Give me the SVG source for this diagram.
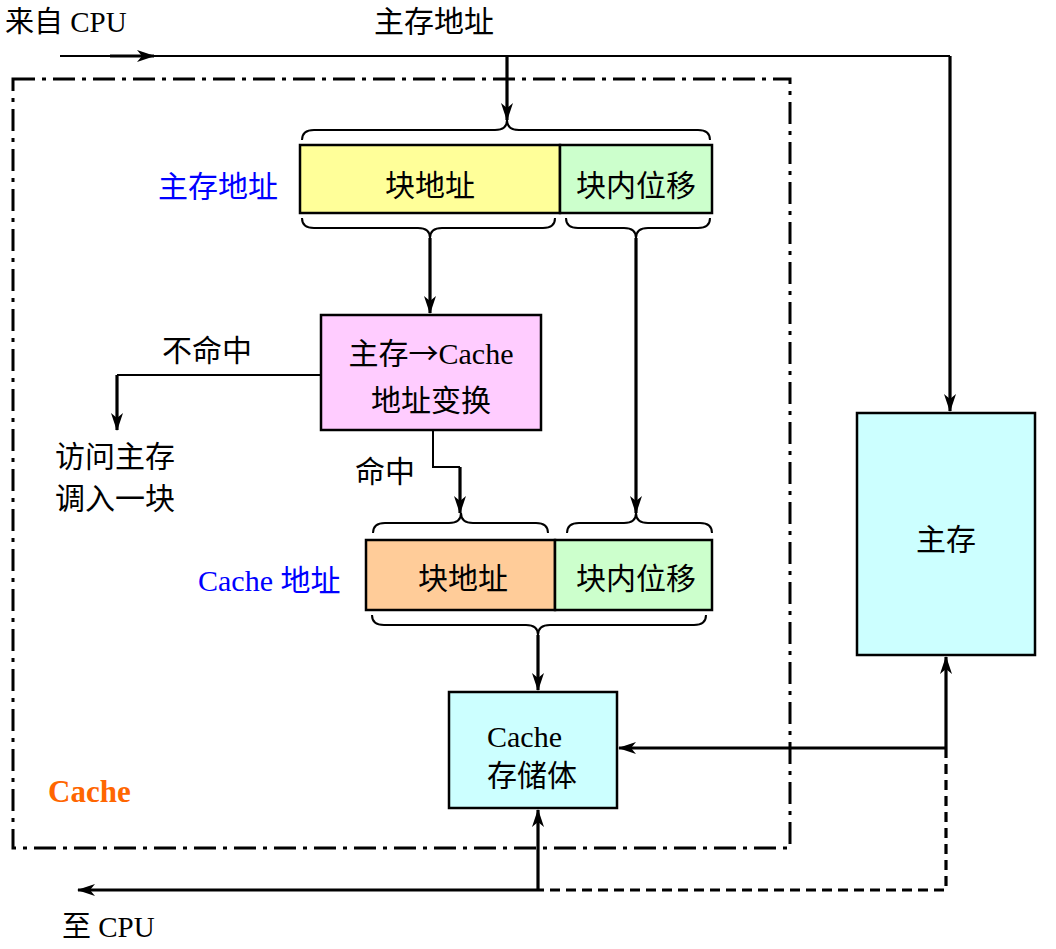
<svg xmlns="http://www.w3.org/2000/svg" width="1056" height="949" viewBox="0 0 1056 949">
<style>
text{font-family:"Liberation Serif","Noto Sans CJK SC",serif;fill:#000;}
.t{font-size:30px;text-anchor:middle;}
.l{font-size:30px;}
.blue{fill:#0000FF;}
.box{stroke:#000;stroke-width:2.5;}
.c{fill:none;stroke:#000;stroke-width:3.2;}
.thin{fill:none;stroke:#000;stroke-width:2;}
.brace{fill:none;stroke:#000;stroke-width:2;}
.cjk{font-family:"Noto Sans CJK SC",sans-serif;}
</style>
<defs>
<marker id="ah" viewBox="0 0 18 12" refX="17" refY="6" markerWidth="18" markerHeight="12" markerUnits="userSpaceOnUse" orient="auto">
<path d="M0,0 L18,6 L0,12 L5,6 z" fill="#000"/>
</marker>
</defs>
<rect width="1056" height="949" fill="#fff"/>

<g id="cache-frame">
<rect x="13" y="79" width="777" height="769" fill="none" stroke="#000" stroke-width="3" stroke-dasharray="22 7 4 7"/>
<text x="48" y="802" style="font-size:31px;font-weight:bold;fill:#FF6600;font-family:'Liberation Serif',serif">Cache</text>
</g>

<g id="labels">
<text x="5" y="32" style="font-size:29px">来自 CPU</text>
<text x="434" y="32" class="l" text-anchor="middle">主存地址</text>
<text x="158" y="197" class="l blue">主存地址</text>
<text x="198" y="591" class="l blue">Cache 地址</text>
<text x="162" y="361" class="l">不命中</text>
<text x="55" y="467" class="l">访问主存</text>
<text x="55" y="509" class="l">调入一块</text>
<text x="355" y="482" class="l">命中</text>
<text x="62" y="937" style="font-size:29px">至 CPU</text>
</g>

<g id="main-address">
<rect x="300" y="145" width="260" height="68" fill="#FFFF99" class="box"/>
<rect x="560" y="145" width="152" height="68" fill="#CCFFCC" class="box"/>
<text x="430" y="196" class="t">块地址</text>
<text x="636" y="196" class="t">块内位移</text>
</g>

<g id="translate">
<rect x="321" y="315" width="220" height="115" fill="#FFCCFF" class="box"/>
<text x="431" y="364" class="t">主存<tspan class="cjk">→</tspan>Cache</text>
<text x="431" y="411" class="t">地址变换</text>
</g>

<g id="cache-address">
<rect x="366" y="540" width="189" height="70" fill="#FFCC99" class="box"/>
<rect x="555" y="540" width="157" height="70" fill="#CCFFCC" class="box"/>
<text x="463" y="589" class="t">块地址</text>
<text x="636" y="589" class="t">块内位移</text>
</g>

<g id="cache-store">
<rect x="449" y="692" width="168" height="116" fill="#CCFFFF" class="box"/>
<text x="487" y="747" style="font-size:30px">Cache</text>
<text x="487" y="786" style="font-size:30px">存储体</text>
</g>

<g id="main-memory">
<rect x="857" y="413" width="178" height="242" fill="#CCFFFF" class="box"/>
<text x="946" y="550" class="t">主存</text>
</g>

<g id="braces">
<path class="brace" d="M302,140 Q302,130 314,130 L495,130 Q507,130 507,120 Q507,130 519,130 L698,130 Q710,130 710,140"/>
<path class="brace" d="M302,218 Q302,228 314,228 L418,228 Q430,228 430,238 Q430,228 442,228 L543,228 Q555,228 555,218"/>
<path class="brace" d="M566,218 Q566,228 578,228 L624,228 Q636,228 636,238 Q636,228 648,228 L698,228 Q710,228 710,218"/>
<path class="brace" d="M373,533 Q373,523 385,523 L449,523 Q461,523 461,513 Q461,523 473,523 L536,523 Q548,523 548,533"/>
<path class="brace" d="M567,533 Q567,523 579,523 L624,523 Q636,523 636,513 Q636,523 648,523 L700,523 Q712,523 712,533"/>
<path class="brace" d="M372,615 Q372,625 384,625 L526,625 Q538,625 538,635 Q538,625 550,625 L694,625 Q706,625 706,615"/>
</g>

<g id="connectors">
<path class="thin" d="M60,56 L950,56"/>
<path class="c" d="M110,56 L154,56" marker-end="url(#ah)"/>
<path class="c" d="M950,56 L950,411" marker-end="url(#ah)"/>
<path class="c" d="M507,56 L507,120" marker-end="url(#ah)"/>
<path class="c" d="M430,238 L430,313" marker-end="url(#ah)"/>
<path class="c" d="M636,238 L636,513" marker-end="url(#ah)"/>
<path class="thin" d="M321,375 L117,375"/>
<path class="c" d="M117,375 L117,430" marker-end="url(#ah)"/>
<path class="thin" d="M433,430 L433,467 L460,467"/>
<path class="c" d="M460,467 L460,513" marker-end="url(#ah)"/>
<path class="c" d="M538,635 L538,690" marker-end="url(#ah)"/>
<path class="c" d="M946,748 L946,657" marker-end="url(#ah)"/>
<path class="c" d="M946,748 L619,748" marker-end="url(#ah)"/>
<path class="c" d="M946,748 L946,890 L538,890" stroke-dasharray="10 6"/>
<path class="c" d="M538,890 L538,810" marker-end="url(#ah)"/>
<path class="c" d="M538,890 L78,890" marker-end="url(#ah)"/>
</g>
</svg>
